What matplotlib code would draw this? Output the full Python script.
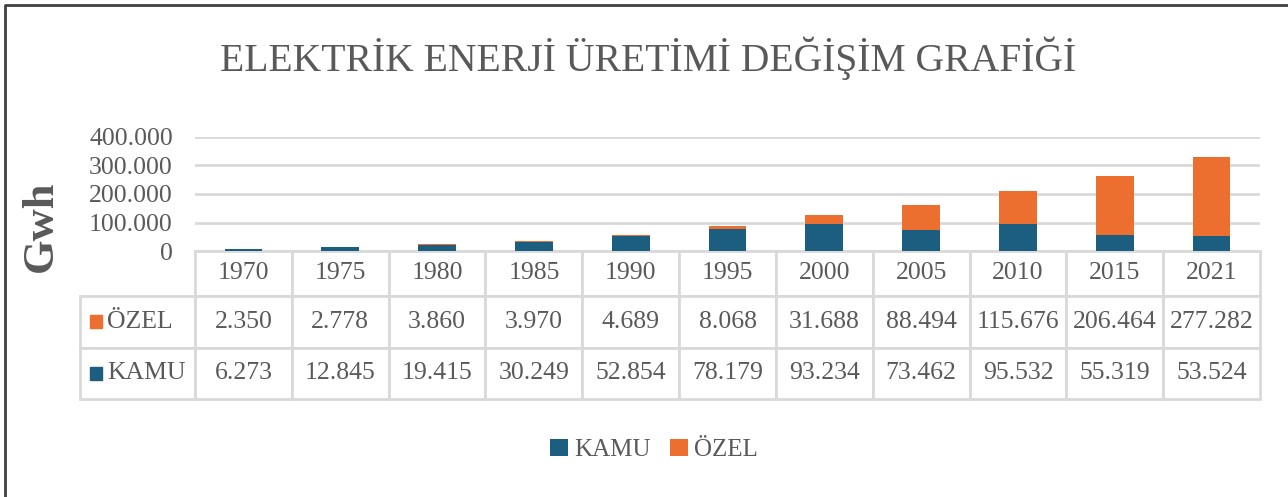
import numpy as np
import matplotlib
matplotlib.use("Agg")
import matplotlib.pyplot as plt
from matplotlib.patches import Rectangle
from matplotlib.lines import Line2D
from matplotlib.ticker import FuncFormatter

plt.rcParams['font.family'] = ['Liberation Serif', 'DejaVu Serif']

# data (Gwh)
years = ['1970', '1975', '1980', '1985', '1990', '1995', '2000', '2005', '2010', '2015', '2021']
kamu = [6273, 12845, 19415, 30249, 52854, 78179, 93234, 73462, 95532, 55319, 53524]
ozel = [2350, 2778, 3860, 3970, 4689, 8068, 31688, 88494, 115676, 206464, 277282]
series_names = ['KAMU', 'ÖZEL']
yticks = [0, 100000, 200000, 300000, 400000]

c_kamu = '#1b5e80'
c_ozel = '#ec6f30'
txt = '#595959'
grid_c = '#d9d9d9'

W, H = 1288, 497
fig = plt.figure(figsize=(W / 100, H / 100), dpi=100)

# axes placement in pixels
ax_l, ax_r, ax_t, ax_b = 195, 1260, 137, 251
ax = fig.add_axes([ax_l / W, 1 - ax_b / H, (ax_r - ax_l) / W, (ax_b - ax_t) / H])

x = np.arange(len(years))
b1 = ax.bar(x, kamu, width=0.39, color=c_kamu, label=series_names[0], zorder=3)
b2 = ax.bar(x, ozel, width=0.39, bottom=kamu, color=c_ozel, label=series_names[1], zorder=3)

ax.set_xlim(-0.5, len(years) - 0.5)
ax.set_ylim(0, 400000)
ax.set_yticks(yticks)
ax.yaxis.set_major_formatter(FuncFormatter(lambda v, p: f"{int(v):,}".replace(',', '.')))
ax.tick_params(axis='y', length=0, pad=16, labelsize=18.5, labelcolor=txt)
ax.tick_params(axis='x', bottom=False, labelbottom=False)
ax.grid(axis='y', color=grid_c, lw=2, zorder=0)
for s in ax.spines.values():
    s.set_visible(False)

# data table under the bars
tab_l, tab_b = 80, 399
hdr_h, row_px = 45, 51.5
axw, axh = ax_r - ax_l, ax_b - ax_t
by0 = (ax_b - tab_b) / axh
cell_text = [[f"{v:,}".replace(',', '.') for v in ozel],
             [f"{v:,}".replace(',', '.') for v in kamu]]
col_w = 1 / len(years)
row_lab_w = (ax_l - tab_l) / axw
tbl = ax.table(cellText=cell_text, colLabels=years, cellLoc='center',
               colWidths=[col_w] * len(years), bbox=[0, by0, 1, -by0])
tbl.auto_set_font_size(False)
tbl.set_fontsize(18.5)
for r, name in zip([1, 2], [series_names[1], series_names[0]]):
    c = tbl.add_cell(r, -1, width=row_lab_w, height=1.0, text=name, loc='left')
    c.PAD = 0.235
for (r, c), cell in tbl.get_celld().items():
    cell.set_height((hdr_h if r == 0 else row_px) / axh)
    cell.set_edgecolor(grid_c)
    cell.set_linewidth(2)
    cell.get_text().set_color(txt)
    cell.get_text().set_fontsize(18.5)

# colour keys in the row label cells
sq_w = 12 / axw
sq_h = 13 / axh
for i, col in enumerate([c_ozel, c_kamu]):
    yc = -(hdr_h + row_px * (i + 0.5)) / axh
    ax.add_patch(Rectangle(((90 - ax_l) / axw, yc - sq_h / 2), sq_w, sq_h,
                           transform=ax.transAxes, color=col, clip_on=False))

fig.text(648 / W, 1 - 58 / H, 'ELEKTRİK ENERJİ ÜRETİMİ DEĞİŞİM GRAFİĞİ',
         ha='center', va='center', fontsize=28.5, color=txt)
fig.text(41 / W, 1 - 226 / H, 'Gwh', rotation=90, ha='center', va='center',
         fontsize=32, fontweight='bold', color=txt)

leg = fig.legend(handles=[b1, b2], loc='center', bbox_to_anchor=(654 / W, 1 - 450 / H),
                 ncol=2, frameon=False, fontsize=18, handlelength=0.7, handleheight=0.7,
                 handletextpad=0.25, columnspacing=0.8)
for t in leg.get_texts():
    t.set_color(txt)

# chart frame (top and left edges visible)
fig.add_artist(Line2D([5 / W, 5 / W, 1.0], [0, 1 - 5 / H, 1 - 5 / H],
                      color='#404040', lw=2, transform=fig.transFigure))

fig.savefig('out.png', dpi=100)
